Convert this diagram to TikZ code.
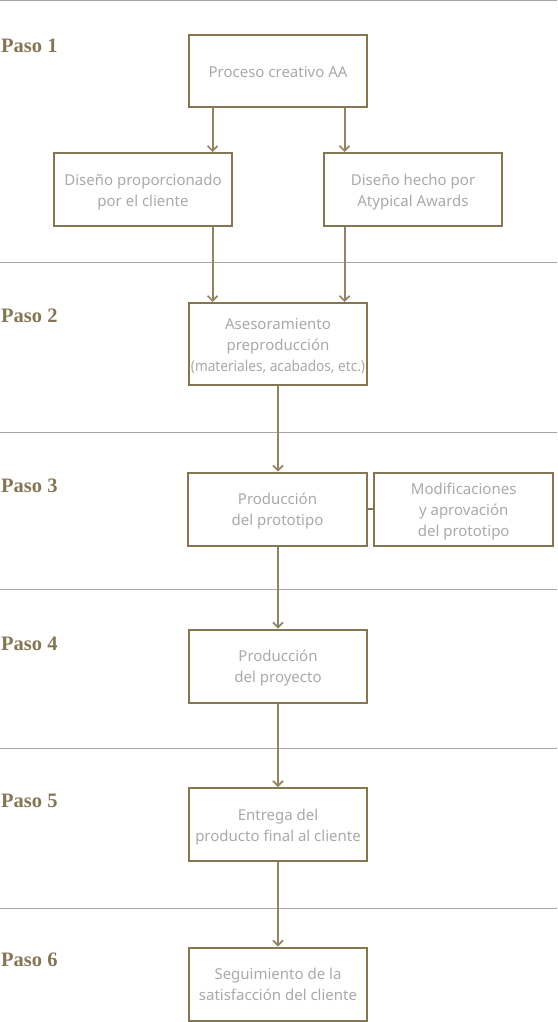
\documentclass[tikz,border=0pt]{standalone}
\usepackage{fontspec}
\setmainfont{Noto Sans}
\newfontfamily\pasofont{Liberation Serif}
\usetikzlibrary{arrows.meta}
\definecolor{olive}{HTML}{857653}
\definecolor{txtgray}{HTML}{A9A9A9}
\definecolor{sepgray}{HTML}{A6A6A6}
\newcommand\bx[1]{\raisebox{-2pt}[\height][\depth]{\begin{tabular}{@{}c@{}}#1\end{tabular}}}
\tikzset{
  stepbox/.style={draw=olive, line width=2pt, minimum width=178pt, minimum height=73pt,
    inner sep=0pt, text=txtgray,
    font=\fontsize{15}{21}\selectfont},
  arr/.style={draw=olive!90!white, line width=2pt, -{Straight Barb[length=5pt,width=10pt,line width=1.7pt]}},
  link/.style={draw=olive, line width=2pt},
  sep/.style={draw=sepgray, line width=1pt},
  paso/.style={anchor=base west, inner sep=0pt, text=olive,
    font=\pasofont\bfseries\fontsize{20.5}{22}\selectfont}
}
\begin{document}
\begin{tikzpicture}[x=1pt,y=-1pt]
\useasboundingbox (0,0) rectangle (557,1022);
% separators
\coordinate (s0l) at (0,0.5);   \coordinate (s0r) at (557,0.5);
\coordinate (s1l) at (0,262);   \coordinate (s1r) at (557,262);
\coordinate (s2l) at (0,432);   \coordinate (s2r) at (557,432);
\coordinate (s3l) at (0,589);   \coordinate (s3r) at (557,589);
\coordinate (s4l) at (0,748);   \coordinate (s4r) at (557,748);
\coordinate (s5l) at (0,908);   \coordinate (s5r) at (557,908);
\foreach \i in {0,...,5} { \draw[sep] (s\i l) -- (s\i r); }
% step labels
\node[paso] (p1) at (1,52.5) {Paso 1};
\node[paso] (p2) at (1,322.5) {Paso 2};
\node[paso] (p3) at (1,492.5) {Paso 3};
\node[paso] (p4) at (1,650) {Paso 4};
\node[paso] (p5) at (1,807) {Paso 5};
\node[paso] (p6) at (1,966) {Paso 6};
% boxes
\node[stepbox, minimum height=72pt] (proc) at (278,71) {\bx{Proceso creativo AA}};
\node[stepbox] (dcli) at (143,189.5) {\bx{Diseño proporcionado\\por el cliente}};
\node[stepbox] (daa) at (413,189.5) {\bx{Diseño hecho por\\Atypical Awards}};
\node[stepbox, minimum height=82pt] (ases) at (278,344) {\bx{Asesoramiento\\preproducción\\\scalebox{0.91}[1]{(materiales, acabados, etc.)}}};
\node[stepbox, minimum width=179pt] (prot) at (277.5,509) {\bx{Producción\\del prototipo}};
\node[stepbox, minimum width=179pt] (mod) at (463.7,509) {\bx{Modificaciones\\y aprovación\\del prototipo}};
\node[stepbox] (proy) at (278,666) {\bx{Producción\\del proyecto}};
\node[stepbox] (entr) at (278,824.5) {\bx{Entrega del\\producto final al cliente}};
\node[stepbox] (seg) at (278,984) {\bx{Seguimiento de la\\satisfacción del cliente}};
% connectors
\coordinate (xl) at (212.5,0);
\coordinate (xr) at (344.5,0);
\coordinate (xm) at (278,0);
\draw[arr] (proc.south -| xl) -- (dcli.north -| xl);
\draw[arr] (proc.south -| xr) -- (daa.north -| xr);
\draw[arr] (dcli.south -| xl) -- (ases.north -| xl);
\draw[arr] (daa.south -| xr) -- (ases.north -| xr);
\draw[arr] (ases.south) -- (prot.north -| xm);
\draw[link] (prot.east) -- (mod.west);
\draw[arr] (prot.south -| xm) -- (proy.north);
\draw[arr] (proy.south) -- (entr.north);
\draw[arr] (entr.south) -- (seg.north);
\end{tikzpicture}
\end{document}
